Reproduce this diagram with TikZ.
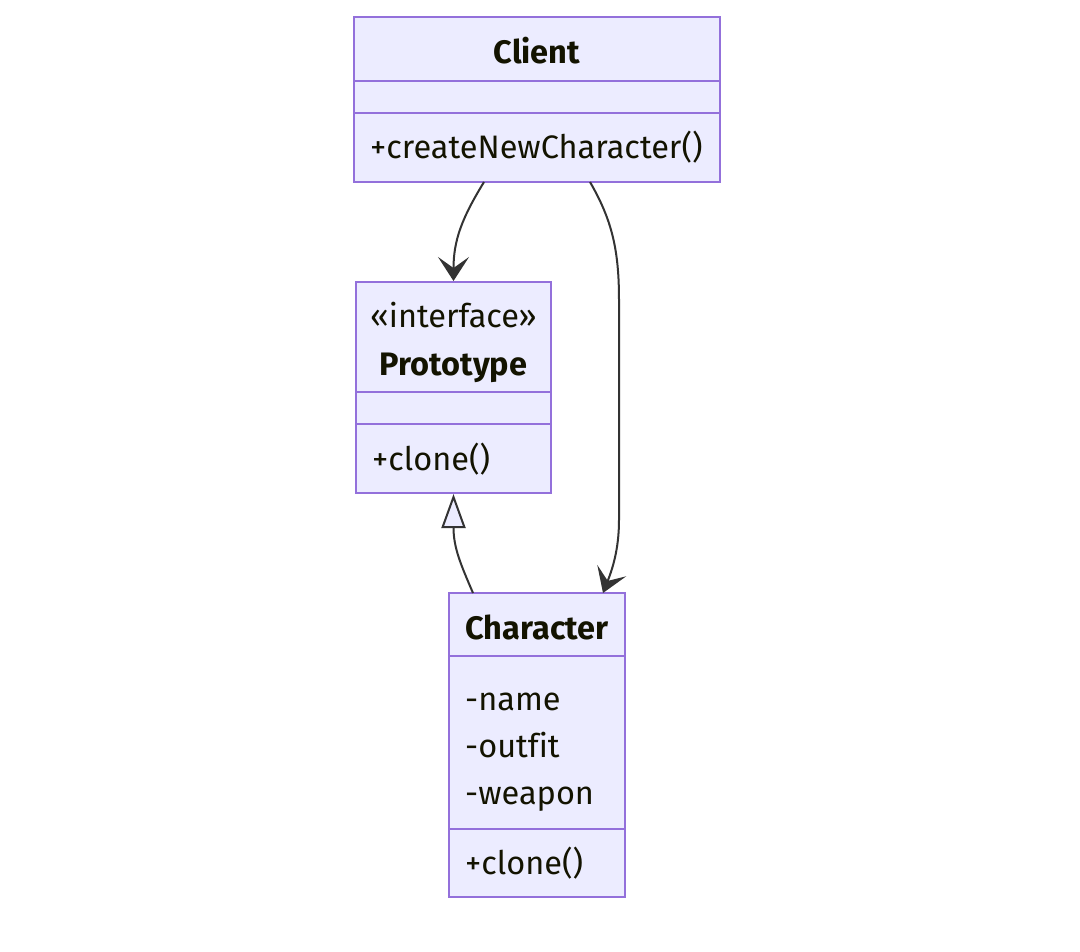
\documentclass[tikz,border=0pt]{standalone}
\usepackage{fontspec}
\setmainfont[Ligatures={NoCommon}]{Fira Sans}
\usetikzlibrary{arrows.meta}
\definecolor{lav}{HTML}{ECECFF}
\definecolor{bord}{HTML}{9370DB}
\definecolor{ln}{HTML}{333333}
\definecolor{txt}{HTML}{131300}
\tikzset{
  umlbox/.style={draw=bord, fill=lav, line width=2pt, inner sep=0pt, minimum width=#1},
  divider/.style={draw=bord, line width=2pt},
  lbl/.style={text=txt, inner sep=0pt, font=\fontsize{32.5}{39}\selectfont},
  ttl/.style={lbl, font=\fontsize{32.5}{39}\selectfont\bfseries},
  dep/.style={draw=ln, line width=2pt, -{Stealth[length=24pt, width=31pt, inset=11pt, line width=2pt]}},
  inh/.style={draw=ln, line width=2pt, -{Triangle[length=34pt, width=24pt, fill=lav, line width=2pt]}}
}
\begin{document}
\begin{tikzpicture}[x=1pt, y=-1pt]
\useasboundingbox (0,0) rectangle (1080,952);
% Client
\node[umlbox=366pt, minimum height=165pt] (client) at (537,99.5) {};
\draw[divider] (client.west |- 0,81) -- (client.east |- 0,81);
\draw[divider] (client.west |- 0,113) -- (client.east |- 0,113);
\node[ttl, anchor=base] (clientT) at (537,64) {Client};
\node[lbl, anchor=base west] (clientM) at (370,159) {+createNewCharacter()};
% Prototype
\node[umlbox=195pt, minimum height=211pt] (proto) at (453.5,387.5) {};
\draw[divider] (proto.west |- 0,392) -- (proto.east |- 0,392);
\draw[divider] (proto.west |- 0,424) -- (proto.east |- 0,424);
\node[lbl, anchor=base] (protoS) at (453.5,328) {«interface»};
\node[ttl, anchor=base] (protoT) at (453.5,375) {Prototype};
\node[lbl, anchor=base west] (protoM) at (372,470) {+clone()};
% Character
\node[umlbox=176pt, minimum height=304pt] (chr) at (537,745) {};
\draw[divider] (chr.west |- 0,656) -- (chr.east |- 0,656);
\draw[divider] (chr.west |- 0,829) -- (chr.east |- 0,829);
\node[ttl, anchor=base] (chrT) at (537,639) {Character};
\node[lbl, anchor=base west] (chrA1) at (465,710) {-name};
\node[lbl, anchor=base west] (chrA2) at (465,757) {-outfit};
\node[lbl, anchor=base west] (chrA3) at (465,804) {-weapon};
\node[lbl, anchor=base west] (chrM) at (465,874) {+clone()};
% connectors
\coordinate (c1) at (484,182);
\coordinate (c2) at (590,182);
\coordinate (ch1) at (603,593);
\coordinate (ch2) at (473,593);
\draw[dep] (c1) .. controls (462,218) and (453.5,240) .. (proto.north);
\draw[dep] (c2) .. controls (612,220) and (619,250) .. (619,300) -- (619,520) .. controls (619,550) and (612,570) .. (ch1);
\draw[inh] (ch2) .. controls (461,565) and (453.5,548) .. (proto.south);
\end{tikzpicture}
\end{document}
